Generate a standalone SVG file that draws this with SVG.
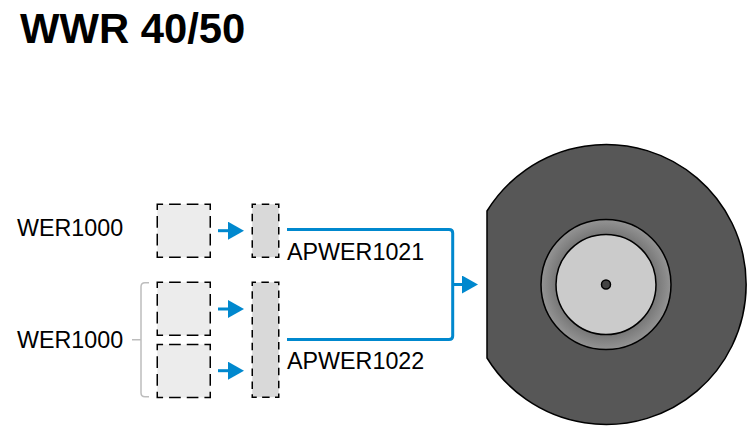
<svg xmlns="http://www.w3.org/2000/svg" width="749" height="428" viewBox="0 0 749 428">
<style>
text{font-family:"Liberation Sans",Arial,sans-serif;fill:#000}
.t{font-size:41.8px;font-weight:bold}
.l{font-size:23.3px}
.a{fill:#ececec;stroke:#000;stroke-width:1.5;stroke-dasharray:11.667 6;stroke-dashoffset:5.833}
.b{fill:#d9d9d9;stroke:#000;stroke-width:1.5;stroke-dasharray:7.500 5.750;stroke-dashoffset:3.750}
.b2{fill:#d9d9d9;stroke:#000;stroke-width:1.5;stroke-dasharray:7.500 5.364;stroke-dashoffset:3.750}
.c{fill:none;stroke:#0088ce;stroke-width:3}
.k{stroke:#000;stroke-width:1.5}
</style>
<defs>
<marker id="h" markerUnits="userSpaceOnUse" markerWidth="16" markerHeight="18" refX="0" refY="9" orient="auto"><path d="M0 0L16 9L0 18Z" fill="#0088ce"/></marker>
<radialGradient id="g" gradientUnits="userSpaceOnUse" cx="606" cy="284.5" r="65"><stop offset="0.77" stop-color="#777777"/><stop offset="1" stop-color="#949494"/></radialGradient>
</defs>
<text class="t" x="20" y="43">WWR 40/50</text>
<g id="wer1000-top"><text class="l" x="17" y="236">WER1000</text></g>
<g id="wer1000-bottom"><text class="l" x="17" y="348">WER1000</text>
<path d="M132 339.7H141M149 282.7H145Q141 282.7 141 286.7V392.7Q141 396.7 145 396.7H149" fill="none" stroke="#bdbdbd" stroke-width="1.5"/></g>
<g id="src1"><rect class="a" x="157.250" y="204.250" width="53" height="53"/></g>
<g id="src2"><rect class="a" x="157.250" y="282.250" width="53" height="53"/></g>
<g id="src3"><rect class="a" x="157.250" y="344.500" width="53" height="53"/></g>
<g id="apwer1021"><rect class="b" x="252.250" y="204.250" width="26.500" height="53"/><text class="l" x="287" y="260">APWER1021</text></g>
<g id="apwer1022"><rect class="b2" x="252.250" y="282.250" width="26.500" height="115"/><text class="l" x="287" y="369">APWER1022</text></g>
<g id="cable">
<path d="M487 211A140 140 0 1 1 487 358Z" fill="#575757" stroke="#000" stroke-width="1.5" stroke-linejoin="round"/>
<circle cx="606" cy="284.500" r="65" fill="url(#g)" class="k"/>
<circle cx="606" cy="284.500" r="50" fill="#cbcbcb" class="k"/>
<circle cx="606" cy="284.500" r="4.500" fill="#444" class="k"/>
</g>
<g id="connectors">
<path class="c" d="M218 230.700H228" marker-end="url(#h)"/>
<path class="c" d="M218 309H228" marker-end="url(#h)"/>
<path class="c" d="M218 370.700H228" marker-end="url(#h)"/>
<path class="c" d="M287 229.500H449Q452.700 229.500 452.700 233V336Q452.700 339.500 449 339.500H287"/>
<path class="c" d="M452 284.500H462" marker-end="url(#h)"/>
</g>
</svg>
